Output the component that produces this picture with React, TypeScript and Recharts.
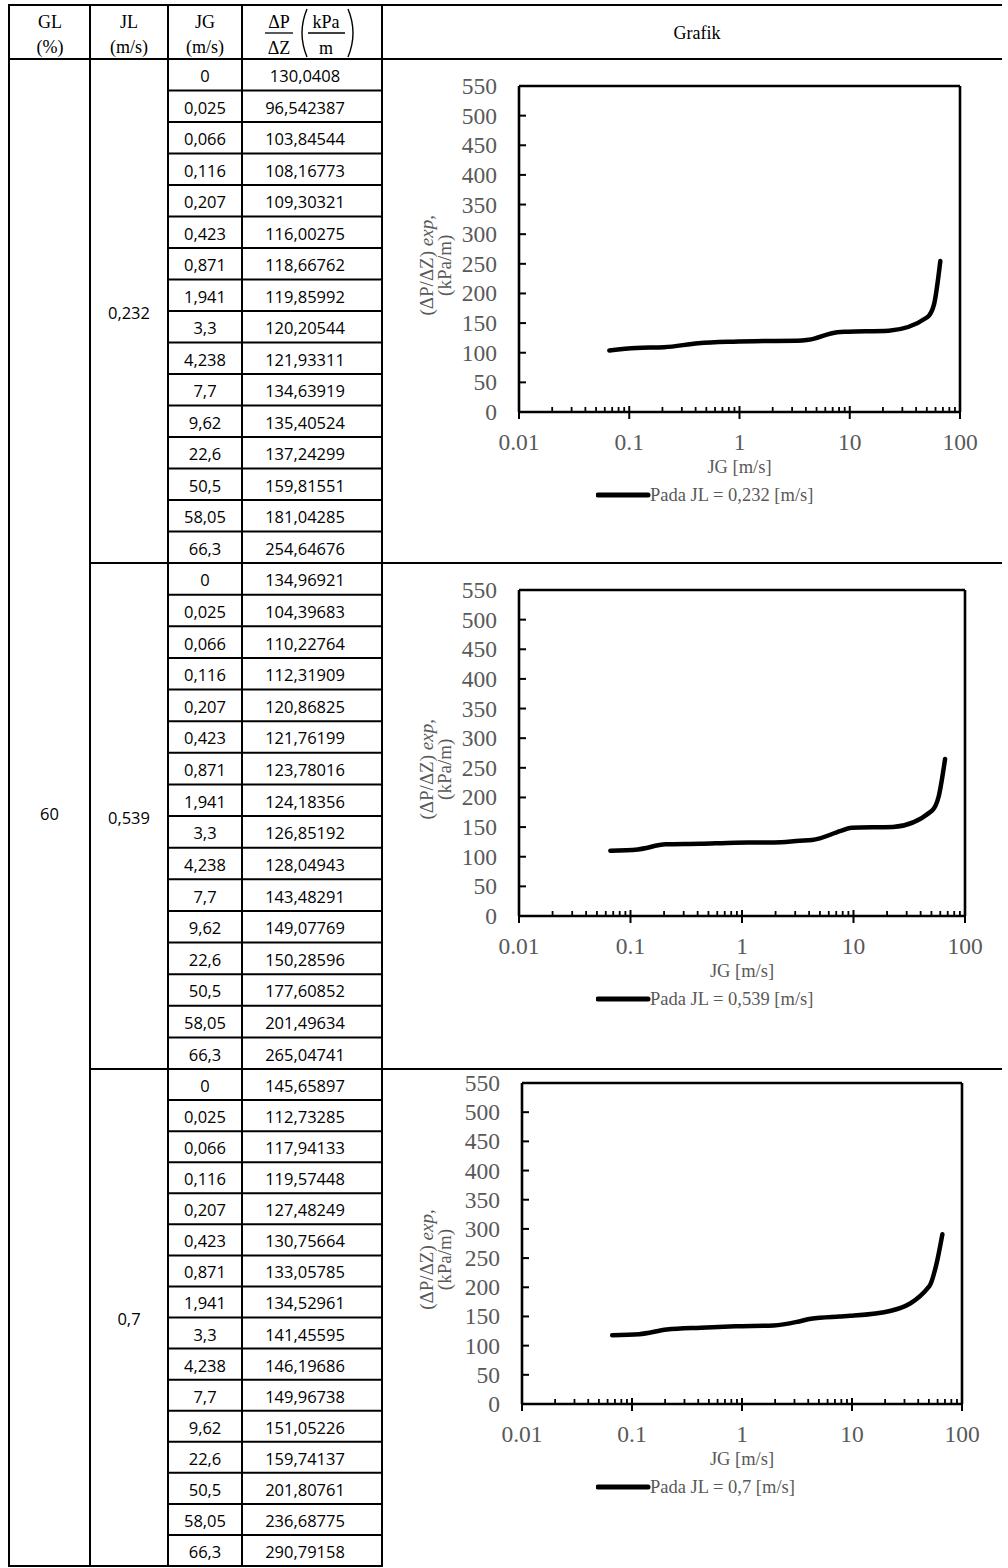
import React from 'react';
import { LineChart, Line, XAxis, YAxis, Legend, ReferenceLine } from 'recharts';

// ---------- data ----------
const glValue = '60';
const jlLabels = ['0,232', '0,539', '0,7'];
const jgValues = [0, 0.025, 0.066, 0.116, 0.207, 0.423, 0.871, 1.941, 3.3, 4.238, 7.7, 9.62, 22.6, 50.5, 58.05, 66.3];
const dpJL1 = [130.0408, 96.542387, 103.84544, 108.16773, 109.30321, 116.00275, 118.66762, 119.85992, 120.20544, 121.93311, 134.63919, 135.40524, 137.24299, 159.81551, 181.04285, 254.64676];
const dpJL2 = [134.96921, 104.39683, 110.22764, 112.31909, 120.86825, 121.76199, 123.78016, 124.18356, 126.85192, 128.04943, 143.48291, 149.07769, 150.28596, 177.60852, 201.49634, 265.04741];
const dpJL3 = [145.65897, 112.73285, 117.94133, 119.57448, 127.48249, 130.75664, 133.05785, 134.52961, 141.45595, 146.19686, 149.96738, 151.05226, 159.74137, 201.80761, 236.68775, 290.79158];
const dpSeries = [dpJL1, dpJL2, dpJL3];
const legendLabels = ['Pada JL = 0,232 [m/s]', 'Pada JL = 0,539 [m/s]', 'Pada JL = 0,7 [m/s]'];
const xMajorTicks = [0.01, 0.1, 1, 10, 100];
const xMajorLabels = ['0.01', '0.1', '1', '10', '100'];
const xMinorTicks = [
  0.02, 0.03, 0.04, 0.05, 0.06, 0.07, 0.08, 0.09,
  0.2, 0.3, 0.4, 0.5, 0.6, 0.7, 0.8, 0.9,
  2, 3, 4, 5, 6, 7, 8, 9,
  20, 30, 40, 50, 60, 70, 80, 90,
];
const yTicks = [0, 50, 100, 150, 200, 250, 300, 350, 400, 450, 500, 550];
// the Excel series starts at the third table row (JG = 0,066)
const firstPlottedRow = 2;

// ---------- layout ----------
const SERIF = "'Liberation Serif', 'Times New Roman', serif";
const SANS = "'Open Sans', 'Noto Sans', sans-serif";
const GRAY = '#595959';
const colX = [9, 90, 168, 242, 382];
const rightEdge = 1002;
const headTop = 5;
const sectionTops = [59, 563, 1069, 1566];

const chartBoxes = [
  { top: 60, plotL: 519, plotT: 86, plotR: 960, plotB: 412 },
  { top: 564, plotL: 519, plotT: 590, plotR: 965, plotB: 916 },
  { top: 1070, plotL: 522, plotT: 1083, plotR: 962, plotB: 1404 },
];
const CHART_LEFT = 383;
const CHART_W = 620;
const CHART_H = 480;

const fmt = (v: number) => String(v).replace('.', ',');

function XTick(props: any) {
  const { x, y, payload } = props;
  const idx = xMajorTicks.indexOf(payload.value);
  if (idx >= 0) {
    return (
      <g>
        <line x1={x} x2={x} y1={y - 6} y2={y + 7} stroke="#000" strokeWidth={2} />
        <text x={x} y={y + 30} textAnchor="middle" dominantBaseline="central" fontFamily={SERIF} fontSize={23.5} fill={GRAY}>
          {xMajorLabels[idx]}
        </text>
      </g>
    );
  }
  return <line x1={x} x2={x} y1={y - 5} y2={y} stroke="#000" strokeWidth={1.8} />;
}

function YTick(props: any) {
  const { x, y, payload } = props;
  return (
    <g>
      {payload.value > 0 && payload.value < 550 && (
        <line x1={x} x2={x + 7} y1={y} y2={y} stroke="#000" strokeWidth={2} />
      )}
      <text x={x - 22} y={y} textAnchor="end" dominantBaseline="central" fontFamily={SERIF} fontSize={23.5} fill={GRAY}>
        {payload.value}
      </text>
    </g>
  );
}

function Chart({ idx }: { idx: number }) {
  const b = chartBoxes[idx];
  const dp = dpSeries[idx];
  const data = jgValues.slice(firstPlottedRow).map((jg, i) => ({ jg, dp: dp[i + firstPlottedRow] }));
  const mTop = b.plotT - b.top;
  const yAxisW = b.plotL - CHART_LEFT;
  const mRight = CHART_LEFT + CHART_W - b.plotR;
  const xAxisH = 40;
  const mBottom = CHART_H - (b.plotB - b.top) - xAxisH;
  const plotH = b.plotB - b.plotT;
  const titleCy = mTop + plotH * 0.55;
  const lx = (ax: number) => ax - CHART_LEFT;

  const yLabel = () => (
    <g fontFamily={SERIF} fontSize={19} fill={GRAY}>
      <text x={lx(433)} y={titleCy} textAnchor="middle" transform={`rotate(-90, ${lx(433)}, ${titleCy})`}>
        (ΔP/ΔZ) <tspan fontStyle="italic">exp</tspan>,
      </text>
      <text x={lx(451)} y={titleCy} textAnchor="middle" transform={`rotate(-90, ${lx(451)}, ${titleCy})`}>
        (kPa/m)
      </text>
    </g>
  );

  const xLabel = () => (
    <text x={(b.plotL + b.plotR) / 2 - CHART_LEFT} y={b.plotB - b.top + 55} textAnchor="middle" dominantBaseline="central" fontFamily={SERIF} fontSize={18.5} fill={GRAY}>
      JG [m/s]
    </text>
  );

  const legendContent = () => (
    <svg width={260} height={26} style={{ display: 'block' }}>
      <line x1={2} x2={52} y1={13} y2={13} stroke="#000" strokeWidth={5} strokeLinecap="round" />
      <text x={54} y={13} dominantBaseline="central" fontFamily={SERIF} fontSize={18.5} fill={GRAY}>
        {legendLabels[idx]}
      </text>
    </svg>
  );

  return (
    <div style={{ position: 'absolute', left: CHART_LEFT, top: b.top, width: CHART_W, height: CHART_H }}>
      <LineChart width={CHART_W} height={CHART_H} data={data} margin={{ top: mTop, right: mRight, bottom: mBottom, left: 0 }}>
        <XAxis
          xAxisId="main"
          dataKey="jg"
          type="number"
          scale="log"
          domain={[0.01, 100]}
          allowDataOverflow
          ticks={[...xMajorTicks, ...xMinorTicks]}
          interval={0}
          tickSize={0}
          tickMargin={0}
          tick={<XTick />}
          tickLine={false}
          height={xAxisH}
          axisLine={{ stroke: '#000', strokeWidth: 2.6 }}
          label={xLabel}
        />
        <YAxis
          yAxisId="main"
          type="number"
          domain={[0, 550]}
          ticks={yTicks}
          interval={0}
          tickSize={0}
          tickMargin={0}
          tick={<YTick />}
          tickLine={false}
          width={yAxisW}
          axisLine={{ stroke: '#000', strokeWidth: 2.6 }}
          label={yLabel}
        />
        <ReferenceLine xAxisId="main" yAxisId="main" y={550} stroke="#000" strokeWidth={2.6} />
        <ReferenceLine xAxisId="main" yAxisId="main" x={100} stroke="#000" strokeWidth={2.6} />
        <Legend
          layout="horizontal"
          verticalAlign="middle"
          align="center"
          content={legendContent}
          wrapperStyle={{ left: 598 - 2 - CHART_LEFT, top: b.plotB - b.top + 70, width: 260, height: 26 }}
        />
        <Line
          xAxisId="main"
          yAxisId="main"
          dataKey="dp"
          name={legendLabels[idx]}
          type="monotone"
          stroke="#000"
          strokeWidth={4.5}
          strokeLinecap="round"
          dot={false}
          activeDot={false}
          isAnimationActive={false}
        />
      </LineChart>
    </div>
  );
}

function Table() {
  const lines: React.ReactNode[] = [];
  const texts: React.ReactNode[] = [];
  const bottom = sectionTops[3];
  const L = (x1: number, y1: number, x2: number, y2: number, key: string, w = 2) =>
    lines.push(<line key={key} x1={x1} y1={y1} x2={x2} y2={y2} stroke="#000" strokeWidth={w} />);

  L(colX[0], headTop, rightEdge, headTop, 'top');
  L(colX[0], sectionTops[0], rightEdge, sectionTops[0], 'headb');
  L(colX[0], bottom, colX[4], bottom, 'bottom');
  colX.forEach((x, i) => L(x, headTop - 1, x, bottom + 1, 'c' + i));

  for (let s = 0; s < 3; s++) {
    const top = sectionTops[s];
    const rh = (sectionTops[s + 1] - top) / 16;
    if (s > 0) L(colX[1], top, rightEdge, top, 'sec' + s);
    for (let k = 1; k < 16; k++) L(colX[2], top + k * rh, colX[4], top + k * rh, `r${s}-${k}`);
    for (let k = 0; k < 16; k++) {
      const cy = top + (k + 0.5) * rh;
      texts.push(
        <text key={`jg${s}-${k}`} x={(colX[2] + colX[3]) / 2} y={cy + 1} textAnchor="middle" dominantBaseline="central" fontFamily={SANS} fontSize={16.5}>
          {fmt(jgValues[k])}
        </text>,
        <text key={`dp${s}-${k}`} x={(colX[3] + colX[4]) / 2 - 7} y={cy + 1} textAnchor="middle" dominantBaseline="central" fontFamily={SANS} fontSize={16.5}>
          {fmt(dpSeries[s][k])}
        </text>
      );
    }
    texts.push(
      <text key={`jl${s}`} x={(colX[1] + colX[2]) / 2} y={(top + sectionTops[s + 1]) / 2 + 1} textAnchor="middle" dominantBaseline="central" fontFamily={SANS} fontSize={16.5}>
        {jlLabels[s]}
      </text>
    );
  }
  texts.push(
    <text key="gl" x={(colX[0] + colX[1]) / 2} y={(sectionTops[0] + bottom) / 2 + 1} textAnchor="middle" dominantBaseline="central" fontFamily={SANS} fontSize={16.5}>
      {glValue}
    </text>
  );

  const hs = { fontFamily: SERIF, fontSize: 18, fill: '#000' } as const;
  return (
    <svg width={1008} height={1568} style={{ position: 'absolute', left: 0, top: 0 }}>
      {lines}
      {texts}
      <text x={50} y={28} textAnchor="middle" {...hs}>GL</text>
      <text x={50} y={53} textAnchor="middle" {...hs}>(%)</text>
      <text x={129} y={28} textAnchor="middle" {...hs}>JL</text>
      <text x={129} y={53} textAnchor="middle" {...hs}>(m/s)</text>
      <text x={205} y={28} textAnchor="middle" {...hs}>JG</text>
      <text x={205} y={53} textAnchor="middle" {...hs}>(m/s)</text>
      <text x={279} y={28} textAnchor="middle" {...hs}>ΔP</text>
      <line x1={265} x2={293} y1={33} y2={33} stroke="#000" strokeWidth={1.3} />
      <text x={279} y={54} textAnchor="middle" {...hs}>ΔZ</text>
      <path d="M307,9 Q297,33 307,57" fill="none" stroke="#000" strokeWidth={1.4} />
      <text x={326} y={28} textAnchor="middle" {...hs}>kPa</text>
      <line x1={308} x2={345} y1={33} y2={33} stroke="#000" strokeWidth={1.3} />
      <text x={326} y={54} textAnchor="middle" {...hs}>m</text>
      <path d="M348,9 Q358,33 348,57" fill="none" stroke="#000" strokeWidth={1.4} />
      <text x={697} y={39} textAnchor="middle" {...hs}>Grafik</text>
    </svg>
  );
}

export default function App() {
  return (
    <div style={{ position: 'absolute', left: 0, top: 0, width: 1008, height: 1568, background: '#fff', overflow: 'hidden' }}>
      <Table />
      <Chart idx={0} />
      <Chart idx={1} />
      <Chart idx={2} />
    </div>
  );
}
